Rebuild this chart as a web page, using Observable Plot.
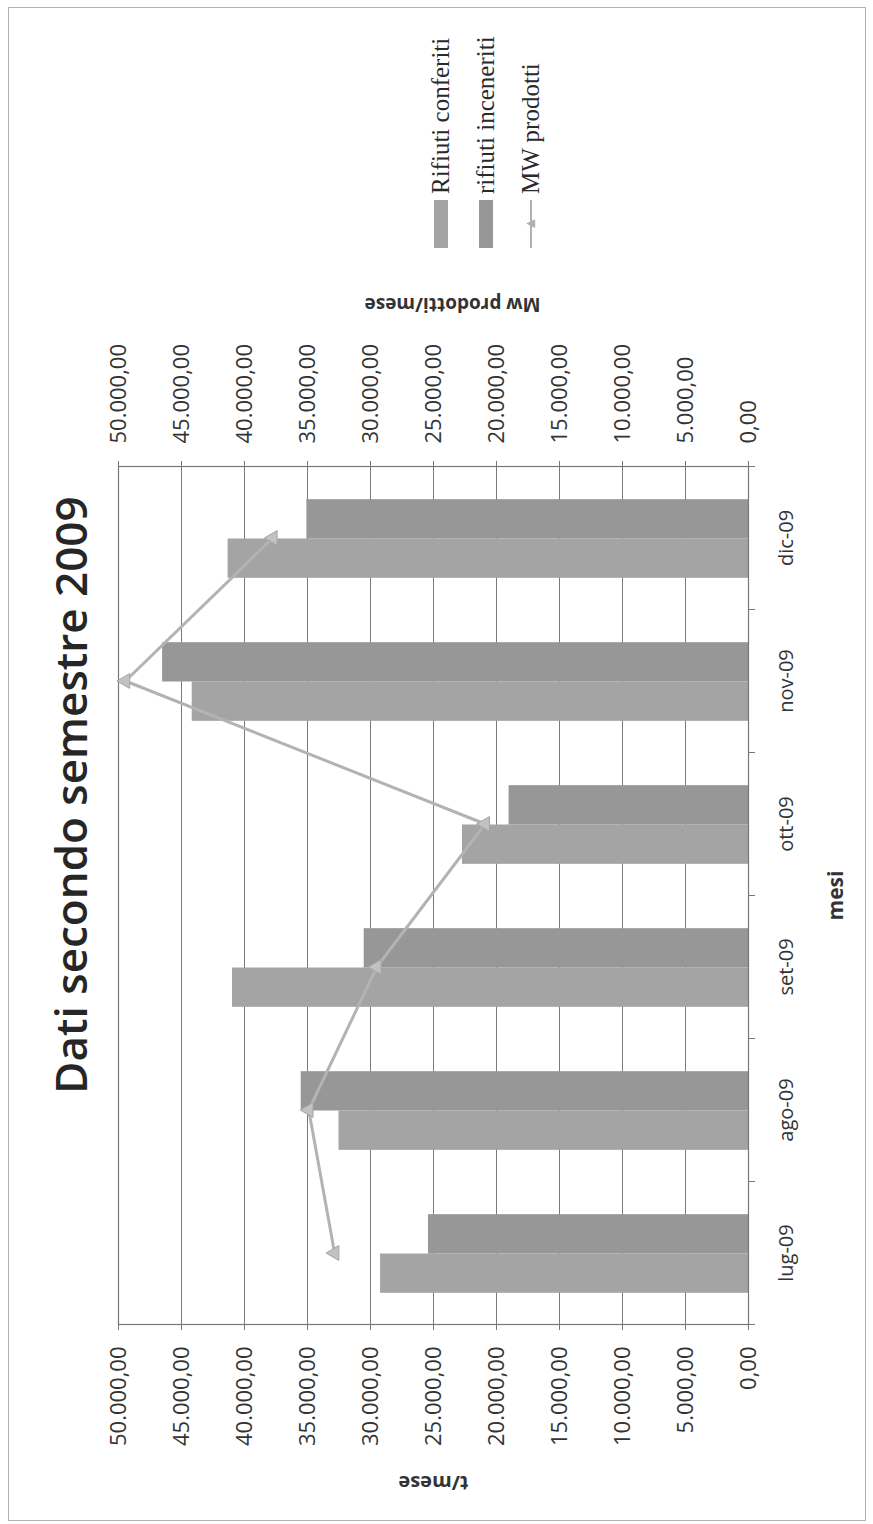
<!DOCTYPE html>
<html>
<head>
<meta charset="utf-8">
<script src="https://cdn.jsdelivr.net/npm/d3@7"></script>
<script src="https://cdn.jsdelivr.net/npm/@observablehq/plot@0.6"></script>
<style>
  html, body { margin: 0; padding: 0; background: #fff; width: 873px; height: 1524px; overflow: hidden; }
  #rot { position: absolute; left: 0; top: 0; width: 1524px; height: 873px;
         transform-origin: 0 0; transform: translate(0, 1524px) rotate(-90deg);
         font-family: "Open Sans", sans-serif; color: #333; background: #fff; }
  #border { position: absolute; left: 3px; top: 8px; width: 1512px; height: 856px; border: 1px solid #b0b0b0; }
  #title { position: absolute; left: 329px; width: 800px; top: 42px; line-height: 56px; text-align: center;
           font-size: 44px; font-weight: 600; color: #262626; }
  #chart { position: absolute; left: 0; top: 0; }
  #legend { position: absolute; left: 1276px; top: 418px; font-family: "Liberation Serif", serif; font-size: 25px; color: #2a2a2a; }
  .row { display: flex; align-items: center; height: 45px; }
  .sw { display: inline-block; width: 48px; height: 14px; margin-right: 6px; }
  .ln { position: relative; display: inline-block; width: 48px; height: 14px; margin-right: 6px; }
  .ln::before { content: ""; position: absolute; left: 0; right: 0; top: 6px; height: 2px; background: #b0b0b0; }
  .ln span { position: absolute; left: 17px; top: -8px; font-size: 15px; color: #b0b0b0; line-height: 28px; }
</style>
</head>
<body>
<div id="rot">
  <div id="border"></div>
  <div id="title">Dati secondo semestre 2009</div>
  <div id="chart"></div>
  <div id="legend"></div>
</div>
<script>
// ---- data ----
const months = ["lug-09", "ago-09", "set-09", "ott-09", "nov-09", "dic-09"];
const rifiutiConferiti = [29200, 32500, 40950, 22700, 44150, 41300];
const rifiutiInceneriti = [25400, 35500, 30500, 19000, 46500, 35050];
const mwProdotti = [32850, 34900, 29500, 20900, 49450, 37750];
const yTicks = [0, 5000, 10000, 15000, 20000, 25000, 30000, 35000, 40000, 45000, 50000];
const seriesNames = ["Rifiuti conferiti", "rifiuti inceneriti", "MW prodotti"];
const seriesColors = ["#a4a4a4", "#979797", "#b3b3b3"];

// ---- layout ----
const W = 1524, H = 873;
const ML = 199, MR = 467, MT = 118, MB = 125;
const bw = (W - ML - MR) / months.length;
const gap = bw * 0.225, barW = bw * 0.275;

const locale = d3.formatLocale({decimal: ",", thousands: ".", grouping: [3], currency: ["€", ""]});
const fmt = locale.format(",.2f");

const rows = months.map((m, i) => ({
  month: m, conferiti: rifiutiConferiti[i], inceneriti: rifiutiInceneriti[i], mw: mwProdotti[i]
}));

const chart = Plot.plot({
  width: W, height: H,
  marginLeft: ML, marginRight: MR, marginTop: MT, marginBottom: MB,
  style: {fontFamily: "Open Sans, sans-serif", fontSize: "22px", color: "#333", background: "transparent", overflow: "visible"},
  x: {type: "band", domain: months, padding: 0, label: null},
  y: {domain: [0, 50000], label: null},
  marks: [
    Plot.gridY(yTicks, {stroke: "#7a7a7a", strokeOpacity: 1, strokeWidth: 1}),
    Plot.barY(rows, {x: "month", y: "conferiti", fill: seriesColors[0], insetLeft: gap, insetRight: bw - gap - barW}),
    Plot.barY(rows, {x: "month", y: "inceneriti", fill: seriesColors[1], insetLeft: gap + barW, insetRight: gap}),
    Plot.frame({stroke: "#777", strokeWidth: 1.2}),
    Plot.line(rows, {x: "month", y: "mw", stroke: seriesColors[2], strokeWidth: 3}),
    Plot.dot(rows, {x: "month", y: "mw", symbol: "triangle", r: 5.5, fill: "#c2c2c2", stroke: "#a5a5a5", strokeWidth: 1}),
    Plot.axisY(yTicks, {anchor: "left", tickSize: 5, tickPadding: 17, tickFormat: fmt, label: null, fontSize: 22, stroke: "#777"}),
    Plot.axisY(yTicks, {anchor: "right", tickSize: 5, tickPadding: 18, tickFormat: fmt, label: null, fontSize: 22, stroke: "#777"}),
    Plot.axisX(months, {tickSize: 0, tickPadding: 30, label: null, fontSize: 20}),
    Plot.axisX(months, {tickSize: 7, text: null, label: null, dx: -bw / 2, stroke: "#777"}),
    Plot.axisX([months[months.length - 1]], {tickSize: 7, text: null, label: null, dx: bw / 2, stroke: "#777"}),
    Plot.text(["t/mese"], {frameAnchor: "left", textAnchor: "middle", dx: -158, rotate: -90, fontWeight: "bold", fontSize: 20, fill: "#333"}),
    Plot.text(["Mw prodotti/mese"], {frameAnchor: "right", textAnchor: "middle", dx: 162, dy: 19, rotate: -90, fontWeight: "bold", fontSize: 19, fill: "#333"}),
    Plot.text(["mesi"], {frameAnchor: "bottom", dy: 94, fontWeight: "bold", fontSize: 21, fill: "#333"})
  ]
});
document.getElementById("chart").appendChild(chart);

// ---- legend ----
const legend = document.getElementById("legend");
seriesNames.forEach((name, i) => {
  const row = document.createElement("div");
  row.className = "row";
  const sw = document.createElement("span");
  if (i < 2) {
    sw.className = "sw";
    sw.style.background = seriesColors[i];
  } else {
    sw.className = "ln";
    const tri = document.createElement("span");
    tri.textContent = "▲";
    sw.appendChild(tri);
  }
  const label = document.createElement("span");
  label.textContent = name;
  row.appendChild(sw);
  row.appendChild(label);
  legend.appendChild(row);
});
</script>
</body>
</html>
